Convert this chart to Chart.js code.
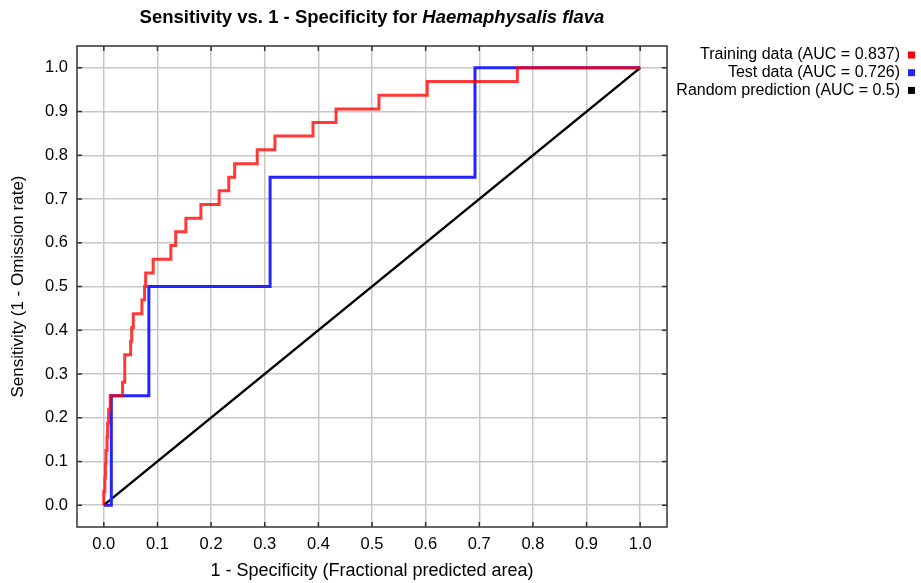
<!DOCTYPE html>
<html>
<head>
<meta charset="utf-8">
<script src="https://cdn.jsdelivr.net/npm/chart.js@4.4.1/dist/chart.umd.min.js"></script>
<style>
  body { margin: 0; background: #ffffff; }
  #rocChart { display: block; }
</style>
</head>
<body>
<canvas id="rocChart" width="921" height="583"></canvas>
<script>
// training ROC (1 - specificity, sensitivity)
var trainFpr = [0, 0.000, 0.002, 0.003, 0.004, 0.006, 0.007, 0.009, 0.012,
  0.035, 0.039, 0.039, 0.050, 0.052, 0.055, 0.071, 0.076, 0.078, 0.092,
  0.125, 0.134, 0.153, 0.181, 0.215, 0.233, 0.244,
  0.286, 0.319, 0.390, 0.433, 0.513, 0.603, 0.771, 1.0];
var trainTpr = [0, 0.031, 0.0625, 0.094, 0.125, 0.156, 0.1875, 0.219, 0.25,
  0.281, 0.3125, 0.344, 0.375, 0.406, 0.4375, 0.469, 0.5, 0.531, 0.5625,
  0.594, 0.625, 0.656, 0.6875, 0.719, 0.75, 0.781,
  0.8125, 0.844, 0.875, 0.906, 0.9375, 0.969, 1.0, 1.0];

// test ROC
var testFpr = [0, 0.014, 0.084, 0.31, 0.692, 1.0];
var testTpr = [0, 0.25, 0.5, 0.75, 1.0, 1.0];

// random prediction
var randomFpr = [0, 1];
var randomTpr = [0, 1];

var seriesLabels = ['Training data (AUC = 0.837)', 'Test data (AUC = 0.726)', 'Random prediction (AUC = 0.5)'];
var xTicks = [0, 0.1, 0.2, 0.3, 0.4, 0.5, 0.6, 0.7, 0.8, 0.9, 1.0];
var yTicks = [0, 0.1, 0.2, 0.3, 0.4, 0.5, 0.6, 0.7, 0.8, 0.9, 1.0];

function toPoints(xs, ys) {
  return xs.map((x, i) => ({ x: x, y: ys[i] }));
}

var FONT = '"Liberation Sans", Arial, sans-serif';

// frame round the plot with short inward ticks on every side
var framePlugin = {
  id: 'frame',
  afterDatasetsDraw: function (chart) {
    var ctx = chart.ctx;
    var a = chart.chartArea;
    var xs = chart.scales.x, ys = chart.scales.y;
    ctx.save();
    ctx.strokeStyle = '#333333';
    ctx.lineWidth = 1.5;
    ctx.strokeRect(a.left, a.top, a.right - a.left, a.bottom - a.top);
    ctx.beginPath();
    xTicks.forEach(function (v) {
      var px = xs.getPixelForValue(v);
      ctx.moveTo(px, a.bottom); ctx.lineTo(px, a.bottom - 5);
      ctx.moveTo(px, a.top); ctx.lineTo(px, a.top + 5);
    });
    yTicks.forEach(function (v) {
      var py = ys.getPixelForValue(v);
      ctx.moveTo(a.left, py); ctx.lineTo(a.left + 5, py);
      ctx.moveTo(a.right, py); ctx.lineTo(a.right - 5, py);
    });
    ctx.stroke();
    ctx.restore();
  }
};

// title with italic species name, and legend with boxes on the right
var textPlugin = {
  id: 'texts',
  afterDraw: function (chart) {
    var ctx = chart.ctx;
    var a = chart.chartArea;
    ctx.save();
    var part1 = 'Sensitivity vs. 1 - Specificity for ';
    var part2 = 'Haemaphysalis flava';
    ctx.font = 'bold 18.5px ' + FONT;
    var w1 = ctx.measureText(part1).width;
    ctx.font = 'italic bold 18.5px ' + FONT;
    var w2 = ctx.measureText(part2).width;
    var x0 = (a.left + a.right) / 2 - (w1 + w2) / 2;
    ctx.fillStyle = '#000000';
    ctx.textBaseline = 'middle';
    ctx.textAlign = 'left';
    ctx.font = 'bold 18.5px ' + FONT;
    ctx.fillText(part1, x0, 18);
    ctx.font = 'italic bold 18.5px ' + FONT;
    ctx.fillText(part2, x0 + w1, 18);

    ctx.font = '16px ' + FONT;
    ctx.textAlign = 'right';
    chart.data.datasets.forEach(function (ds, i) {
      var y = 55 + i * 17.7;
      ctx.fillStyle = '#000000';
      ctx.fillText(ds.label, 900, y);
      ctx.fillStyle = ds.legendColor;
      ctx.fillRect(908, y - 3.5, 7, 7);
    });
    ctx.restore();
  }
};

var ctx = document.getElementById('rocChart').getContext('2d');
var myChart = new Chart(ctx, {
  type: 'line',
  data: {
    datasets: [{
      label: seriesLabels[0],
      data: toPoints(trainFpr, trainTpr),
      borderColor: 'rgba(255, 0, 0, 0.78)',
      legendColor: '#ff0000',
      borderWidth: 3,
      stepped: true,
      pointRadius: 0
    }, {
      label: seriesLabels[1],
      data: toPoints(testFpr, testTpr),
      borderColor: '#2424ff',
      legendColor: '#2424ff',
      borderWidth: 3,
      stepped: true,
      pointRadius: 0
    }, {
      label: seriesLabels[2],
      data: toPoints(randomFpr, randomTpr),
      borderColor: '#000000',
      legendColor: '#000000',
      borderWidth: 2.5,
      pointRadius: 0
    }]
  },
  options: {
    responsive: false,
    animation: false,
    layout: { padding: { top: 46, right: 254, left: 0, bottom: 0 } },
    plugins: {
      legend: { display: false },
      title: { display: false },
      tooltip: { enabled: false }
    },
    scales: {
      x: {
        type: 'linear',
        min: -0.05,
        max: 1.05,
        afterBuildTicks: function (s) { s.ticks = xTicks.map((v) => ({ value: v })); },
        afterFit: function (s) { s.height = 56; },
        border: { display: false },
        grid: { color: '#c8c8c8', lineWidth: 1.5, drawTicks: false },
        ticks: {
          padding: 8,
          maxRotation: 0,
          color: '#000000',
          font: { family: FONT, size: 16.5 },
          callback: function (v) { return Number(v).toFixed(1); }
        },
        title: {
          display: true,
          text: '1 - Specificity (Fractional predicted area)',
          color: '#000000',
          font: { family: FONT, size: 18 },
          padding: { top: 4, bottom: 1 }
        }
      },
      y: {
        type: 'linear',
        min: -0.05,
        max: 1.05,
        afterBuildTicks: function (s) { s.ticks = yTicks.map((v) => ({ value: v })); },
        afterFit: function (s) { s.width = 77; },
        border: { display: false },
        grid: { color: '#c8c8c8', lineWidth: 1.5, drawTicks: false },
        ticks: {
          padding: 9,
          color: '#000000',
          font: { family: FONT, size: 16.5 },
          callback: function (v) { return Number(v).toFixed(1); }
        },
        title: {
          display: true,
          text: 'Sensitivity (1 - Omission rate)',
          color: '#000000',
          font: { family: FONT, size: 17 },
          padding: { top: 8, bottom: 4 }
        }
      }
    }
  },
  plugins: [framePlugin, textPlugin]
});
</script>
</body>
</html>
